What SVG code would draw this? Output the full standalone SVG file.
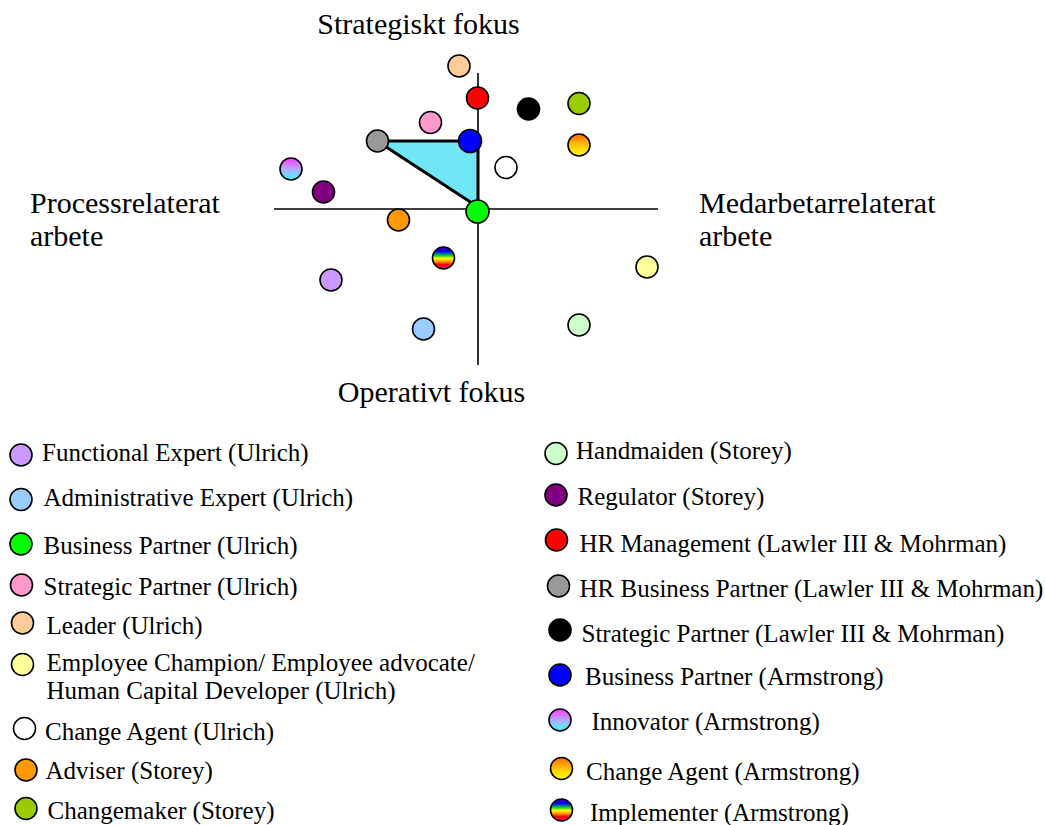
<svg xmlns="http://www.w3.org/2000/svg" width="1045" height="825" viewBox="0 0 1045 825">
  <style>
    .lbl { font-family: "Liberation Serif", "Times New Roman", serif; font-size: 30px; fill: #000; }
    .leg { font-family: "Liberation Serif", "Times New Roman", serif; font-size: 25px; fill: #000; }
    .dot { stroke: #000; stroke-width: 1.6; }
    .axis { stroke: #000; stroke-width: 1.6; fill: none; }
  </style>
  <defs>
    <linearGradient id="gInnovator" x1="0" y1="0" x2="0" y2="1">
      <stop offset="0" stop-color="#FF33FF"/>
      <stop offset="0.5" stop-color="#B8A8FF"/>
      <stop offset="1" stop-color="#33FFFF"/>
    </linearGradient>
    <linearGradient id="gChange" x1="0" y1="0" x2="0" y2="1">
      <stop offset="0" stop-color="#FF6600"/>
      <stop offset="0.55" stop-color="#FFCC00"/>
      <stop offset="1" stop-color="#FFFF00"/>
    </linearGradient>
    <linearGradient id="gRainbow" x1="0" y1="0" x2="0" y2="1">
      <stop offset="0" stop-color="#5500AA"/>
      <stop offset="0.2" stop-color="#0000FF"/>
      <stop offset="0.38" stop-color="#00CC33"/>
      <stop offset="0.52" stop-color="#FFFF00"/>
      <stop offset="0.66" stop-color="#FF9900"/>
      <stop offset="0.8" stop-color="#FF0000"/>
      <stop offset="1" stop-color="#FF0099"/>
    </linearGradient>
  </defs>

  <!-- axis titles -->
  <g id="axis-labels">
    <text class="lbl" x="418.5" y="34" text-anchor="middle">Strategiskt fokus</text>
    <text class="lbl" x="30" y="213">Processrelaterat</text>
    <text class="lbl" x="30" y="246">arbete</text>
    <text class="lbl" x="699" y="213">Medarbetarrelaterat</text>
    <text class="lbl" x="699" y="246">arbete</text>
    <text class="lbl" x="431.5" y="402" text-anchor="middle">Operativt fokus</text>
  </g>

  <!-- axes and highlighted triangle -->
  <g id="connectors">
    <line class="axis" x1="274" y1="209" x2="658" y2="209"/>
    <line class="axis" x1="478" y1="73" x2="478" y2="365"/>
    <polygon points="377,141 478,141 478,207" fill="#70E6F6" stroke="#000" stroke-width="3" stroke-linejoin="round"/>
  </g>

  <!-- role markers in the plot -->
  <g id="plot-points">
    <circle id="p-leader" class="dot" cx="459" cy="66" r="11" fill="#FFCC99"/>
    <circle id="p-hrmgmt" class="dot" cx="477.5" cy="98" r="11" fill="#FF0000"/>
    <circle id="p-strat-lawler" class="dot" cx="528.5" cy="109" r="11" fill="#000000"/>
    <circle id="p-changemaker" class="dot" cx="579" cy="103.5" r="11" fill="#99CC00"/>
    <circle id="p-strat-ulrich" class="dot" cx="430.5" cy="122.5" r="11" fill="#FF99CC"/>
    <circle id="p-hrbp" class="dot" cx="377.5" cy="141" r="11" fill="#999999"/>
    <circle id="p-bp-armstrong" class="dot" cx="470" cy="141" r="11.5" fill="#0000FF"/>
    <circle id="p-change-armstrong" class="dot" cx="579" cy="145" r="11" fill="url(#gChange)"/>
    <circle id="p-change-ulrich" class="dot" cx="506" cy="167.5" r="11" fill="#FFFFFF"/>
    <circle id="p-innovator" class="dot" cx="291" cy="169" r="11" fill="url(#gInnovator)"/>
    <circle id="p-regulator" class="dot" cx="323.5" cy="192" r="11" fill="#800080"/>
    <circle id="p-bp-ulrich" class="dot" cx="477.5" cy="211.5" r="11.5" fill="#00FF00"/>
    <circle id="p-adviser" class="dot" cx="398.5" cy="220" r="11" fill="#FF9900"/>
    <circle id="p-implementer" class="dot" cx="443.5" cy="258" r="11" fill="url(#gRainbow)"/>
    <circle id="p-employee" class="dot" cx="647" cy="267" r="11" fill="#FFFF99"/>
    <circle id="p-functional" class="dot" cx="331" cy="280" r="11" fill="#CC99FF"/>
    <circle id="p-admin" class="dot" cx="423.5" cy="329" r="11" fill="#99CCFF"/>
    <circle id="p-handmaiden" class="dot" cx="579" cy="325" r="11" fill="#CCFFCC"/>
  </g>

  <!-- legend, left column -->
  <g id="legend-left">
    <g id="l-functional"><circle class="dot" cx="21" cy="455" r="11" fill="#CC99FF"/><text class="leg" x="42" y="461">Functional Expert (Ulrich)</text></g>
    <g id="l-admin"><circle class="dot" cx="21" cy="499.5" r="11" fill="#99CCFF"/><text class="leg" x="43.5" y="506">Administrative Expert (Ulrich)</text></g>
    <g id="l-bp-ulrich"><circle class="dot" cx="21" cy="544" r="11" fill="#00FF00"/><text class="leg" x="43.5" y="554">Business Partner (Ulrich)</text></g>
    <g id="l-strat-ulrich"><circle class="dot" cx="21.5" cy="585" r="11" fill="#FF99CC"/><text class="leg" x="43.5" y="595">Strategic Partner (Ulrich)</text></g>
    <g id="l-leader"><circle class="dot" cx="22.5" cy="623" r="11" fill="#FFCC99"/><text class="leg" x="46.5" y="634">Leader (Ulrich)</text></g>
    <g id="l-employee"><circle class="dot" cx="22.5" cy="664.5" r="11" fill="#FFFF99"/><text class="leg" x="46.5" y="671">Employee Champion/ Employee advocate/</text><text class="leg" x="46.5" y="698.5">Human Capital Developer (Ulrich)</text></g>
    <g id="l-change-ulrich"><circle class="dot" cx="24.5" cy="728.5" r="11" fill="#FFFFFF"/><text class="leg" x="45" y="740">Change Agent (Ulrich)</text></g>
    <g id="l-adviser"><circle class="dot" cx="26" cy="770" r="11" fill="#FF9900"/><text class="leg" x="45.5" y="778.5">Adviser (Storey)</text></g>
    <g id="l-changemaker"><circle class="dot" cx="26" cy="808.5" r="11" fill="#99CC00"/><text class="leg" x="47.5" y="818.5">Changemaker (Storey)</text></g>
  </g>

  <!-- legend, right column -->
  <g id="legend-right">
    <g id="l-handmaiden"><circle class="dot" cx="556" cy="453.5" r="11" fill="#CCFFCC"/><text class="leg" x="576" y="458.5">Handmaiden (Storey)</text></g>
    <g id="l-regulator"><circle class="dot" cx="556" cy="495" r="11" fill="#800080"/><text class="leg" x="577.5" y="505">Regulator (Storey)</text></g>
    <g id="l-hrmgmt"><circle class="dot" cx="556.5" cy="540" r="11" fill="#FF0000"/><text class="leg" x="579.5" y="552">HR Management (Lawler III &amp; Mohrman)</text></g>
    <g id="l-hrbp"><circle class="dot" cx="558.5" cy="586" r="11" fill="#999999"/><text class="leg" x="579.5" y="597">HR Business Partner (Lawler III &amp; Mohrman)</text></g>
    <g id="l-strat-lawler"><circle class="dot" cx="560" cy="630" r="11" fill="#000000"/><text class="leg" x="581.5" y="642">Strategic Partner (Lawler III &amp; Mohrman)</text></g>
    <g id="l-bp-armstrong"><circle class="dot" cx="560" cy="675" r="11" fill="#0000FF"/><text class="leg" x="585" y="685">Business Partner (Armstrong)</text></g>
    <g id="l-innovator"><circle class="dot" cx="560" cy="720" r="11" fill="url(#gInnovator)"/><text class="leg" x="591.5" y="729.5">Innovator (Armstrong)</text></g>
    <g id="l-change-armstrong"><circle class="dot" cx="561.5" cy="768.5" r="11" fill="url(#gChange)"/><text class="leg" x="586" y="779.5">Change Agent (Armstrong)</text></g>
    <g id="l-implementer"><circle class="dot" cx="561.5" cy="810" r="11" fill="url(#gRainbow)"/><text class="leg" x="590" y="821">Implementer (Armstrong)</text></g>
  </g>
</svg>
